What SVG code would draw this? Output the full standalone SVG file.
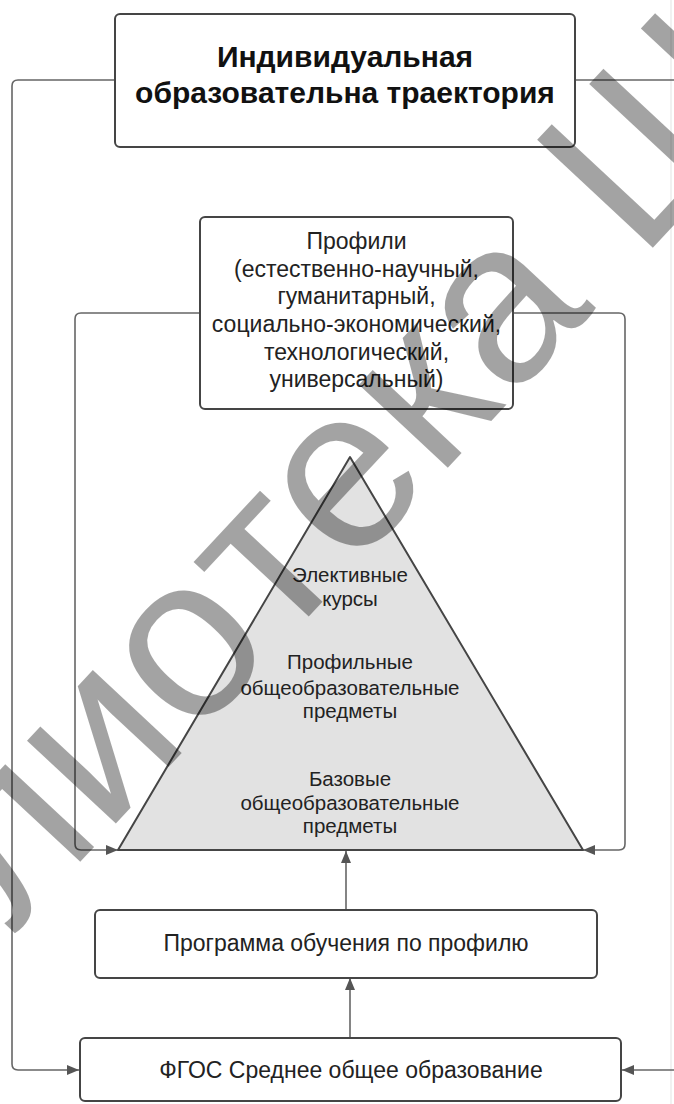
<svg xmlns="http://www.w3.org/2000/svg" width="674" height="1104" viewBox="0 0 674 1104">
  <defs>
    <marker id="arrow" viewBox="0 0 12 10" refX="12" refY="5" markerWidth="12" markerHeight="10" markerUnits="userSpaceOnUse" orient="auto">
      <path d="M0,0 L12,5 L0,10 Z" fill="#555"/>
    </marker>
    <style>
      .box { fill: #ffffff; stroke: #454545; stroke-width: 2; }
      .tri { fill: #e2e2e2; stroke: #454545; stroke-width: 2; stroke-linejoin: round; }
      .conn { fill: none; stroke: #666666; stroke-width: 1.6; }
      .lbl { font-family: "Liberation Sans", Arial, sans-serif; fill: #222; text-anchor: middle; }
      .title { font-size: 30px; font-weight: bold; fill: #111; }
      .prof { font-size: 23px; }
      .pyr { font-size: 20.5px; }
      .low { font-size: 23px; }
      .wm { font-family: "Liberation Sans", Arial, sans-serif; font-size: 230px; fill: #000; fill-opacity: 0.36; }
    </style>
  </defs>

  <rect width="674" height="1104" fill="#ffffff"/>
  <line x1="671" y1="0" x2="671" y2="1104" stroke="#ececec" stroke-width="1.5"/>

  <!-- connectors -->
  <g id="connectors">
    <path class="conn" d="M115,80 H18 Q12,80 12,86 V1064 Q12,1070 18,1070 H79" marker-end="url(#arrow)"/>
    <path class="conn" d="M575,80 H690"/>
    <path class="conn" d="M690,1070 H622" marker-end="url(#arrow)"/>
    <path class="conn" d="M200,313 H81 Q75,313 75,319 V844 Q75,850 81,850 H118" marker-end="url(#arrow)"/>
    <path class="conn" d="M513,313 H619 Q625,313 625,319 V844 Q625,850 619,850 H583" marker-end="url(#arrow)"/>
    <path class="conn" d="M350,1038 V978" marker-end="url(#arrow)"/>
    <path class="conn" d="M346,910 V851" marker-end="url(#arrow)"/>
  </g>

  <!-- Individual educational trajectory -->
  <g id="trajectory">
    <rect class="box" x="115" y="14" width="460" height="133" rx="5"/>
    <text class="lbl title" x="345" y="67">Индивидуальная</text>
    <text class="lbl title" x="345" y="103">образовательна траектория</text>
  </g>

  <!-- Profiles -->
  <g id="profiles">
    <rect class="box" x="200" y="217" width="313" height="192" rx="5"/>
    <text class="lbl prof" x="356.5" y="249">Профили</text>
    <text class="lbl prof" x="356.5" y="277">(естественно-научный,</text>
    <text class="lbl prof" x="356.5" y="304">гуманитарный,</text>
    <text class="lbl prof" x="356.5" y="332">социально-экономический,</text>
    <text class="lbl prof" x="356.5" y="360">технологический,</text>
    <text class="lbl prof" x="356.5" y="387">универсальный)</text>
  </g>

  <!-- Pyramid of courses -->
  <g id="pyramid">
    <path class="tri" d="M350,457 L583,850 L118,850 Z"/>
    <text class="lbl pyr" x="350" y="582">Элективные</text>
    <text class="lbl pyr" x="350" y="606">курсы</text>
    <text class="lbl pyr" x="350" y="669">Профильные</text>
    <text class="lbl pyr" x="350" y="695">общеобразовательные</text>
    <text class="lbl pyr" x="350" y="718">предметы</text>
    <text class="lbl pyr" x="350" y="786">Базовые</text>
    <text class="lbl pyr" x="350" y="810">общеобразовательные</text>
    <text class="lbl pyr" x="350" y="833">предметы</text>
  </g>

  <!-- Profile programme -->
  <g id="programme">
    <rect class="box" x="95" y="910" width="502" height="68" rx="5"/>
    <text class="lbl low" x="346" y="951">Программа обучения по профилю</text>
  </g>

  <!-- FGOS -->
  <g id="fgos">
    <rect class="box" x="80" y="1038" width="541" height="63" rx="5"/>
    <text class="lbl low" x="351" y="1078">ФГОС Среднее общее образование</text>
  </g>

  <!-- watermark, split at the letter "т" so the word sits on one rotated baseline -->
  <g transform="translate(316,609) rotate(-47)">
    <text class="wm" x="-53" text-anchor="end">Библио</text>
    <text class="wm" x="-53">тека Ш</text>
  </g>
</svg>
